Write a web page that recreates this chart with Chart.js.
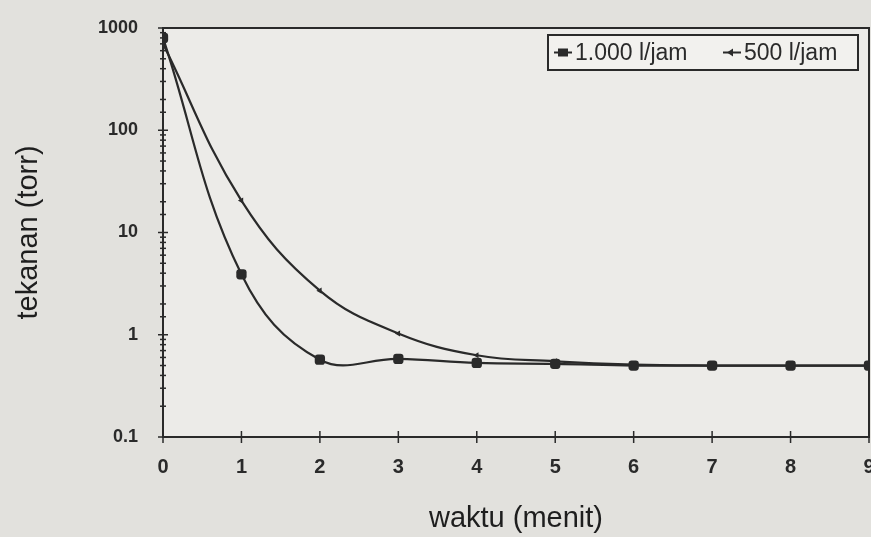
<!DOCTYPE html>
<html>
<head>
<meta charset="utf-8">
<script src="https://cdn.jsdelivr.net/npm/chart.js@4/dist/chart.umd.min.js"></script>
<style>
  html, body { margin: 0; padding: 0; background: #e2e1dd; overflow: hidden; }
  #wrap { position: relative; width: 871px; height: 537px; overflow: hidden; }
</style>
</head>
<body>
<div id="wrap"><canvas id="pressureChart" width="875" height="537"></canvas></div>
<script>
// data
const waktu = [0, 1, 2, 3, 4, 5, 6, 7, 8, 9];
const tekanan1000 = [800, 3.9, 0.57, 0.58, 0.53, 0.52, 0.5, 0.5, 0.5, 0.5];
const tekanan500 = [700, 20.5, 2.7, 1.03, 0.63, 0.55, 0.51, 0.5, 0.5, 0.5];
const seriesLabels = ['1.000 l/jam', '500 l/jam'];
const yTickLabels = [0.1, 1, 10, 100, 1000];
const ink = '#2a2a2a';

function toPoints(ys) {
    return waktu.map((x, i) => ({ x: x, y: ys[i] }));
}

// paper background, frame, crossing tick marks and boxed legend
const framePlugin = {
    id: 'frame',
    beforeDraw(chart) {
        const { ctx, chartArea: a } = chart;
        ctx.save();
        ctx.fillStyle = '#e2e1dd';
        ctx.fillRect(0, 0, chart.width, chart.height);
        ctx.fillStyle = '#ecebe8';
        ctx.fillRect(a.left, a.top, a.right - a.left, a.bottom - a.top);
        ctx.restore();
    },
    afterDatasetsDraw(chart) {
        const { ctx, chartArea: a, scales } = chart;
        ctx.save();
        ctx.strokeStyle = ink;
        ctx.lineWidth = 2;
        ctx.strokeRect(a.left, a.top, a.right - a.left, a.bottom - a.top);

        ctx.lineWidth = 1.5;
        scales.x.ticks.forEach(t => {
            const px = scales.x.getPixelForValue(t.value);
            ctx.beginPath();
            ctx.moveTo(px, a.bottom - 6);
            ctx.lineTo(px, a.bottom + 6);
            ctx.stroke();
        });
        scales.y.ticks.forEach(t => {
            const py = scales.y.getPixelForValue(t.value);
            const major = yTickLabels.includes(t.value);
            const len = major ? 5 : 3;
            ctx.beginPath();
            ctx.moveTo(a.left - len, py);
            ctx.lineTo(a.left + len, py);
            ctx.stroke();
        });

        // legend box
        const bx = 548, by = 35, bw = 310, bh = 35;
        ctx.fillStyle = '#f2f1ee';
        ctx.fillRect(bx, by, bw, bh);
        ctx.lineWidth = 2;
        ctx.strokeRect(bx, by, bw, bh);
        ctx.font = '23px "Liberation Sans Narrow", "Liberation Sans", Arial, sans-serif';
        ctx.textBaseline = 'middle';
        ctx.fillStyle = ink;
        const cy = by + bh / 2;
        const items = [
            { x: 554, ds: 0 },
            { x: 723, ds: 1 }
        ];
        items.forEach(it => {
            ctx.lineWidth = 2;
            ctx.beginPath();
            ctx.moveTo(it.x, cy);
            ctx.lineTo(it.x + 18, cy);
            ctx.stroke();
            if (it.ds === 0) {
                ctx.fillRect(it.x + 4, cy - 4, 10, 8);
            } else {
                ctx.beginPath();
                ctx.moveTo(it.x + 4, cy);
                ctx.lineTo(it.x + 10, cy - 4);
                ctx.lineTo(it.x + 10, cy + 4);
                ctx.closePath();
                ctx.fill();
            }
            ctx.fillText(chart.data.datasets[it.ds].label, it.x + 21, cy + 1);
        });
        ctx.restore();
    }
};

const ctx = document.getElementById('pressureChart').getContext('2d');

new Chart(ctx, {
    type: 'line',
    data: {
        datasets: [
            {
                label: seriesLabels[0],
                data: toPoints(tekanan1000),
                borderColor: ink,
                backgroundColor: ink,
                borderWidth: 2.2,
                tension: 0.4,
                pointStyle: 'rectRounded',
                pointRadius: 6,
                pointBorderWidth: 0
            },
            {
                label: seriesLabels[1],
                data: toPoints(tekanan500),
                borderColor: ink,
                backgroundColor: ink,
                borderWidth: 2.2,
                tension: 0.4,
                pointStyle: 'triangle',
                pointRotation: -90,
                pointRadius: 3.5,
                pointBorderWidth: 0
            }
        ]
    },
    options: {
        responsive: false,
        animation: false,
        layout: {
            padding: { top: 28, right: 0, bottom: 0, left: 0 }
        },
        plugins: {
            legend: { display: false },
            tooltip: { enabled: false }
        },
        scales: {
            x: {
                type: 'linear',
                min: 0,
                max: 9,
                afterFit(scale) {
                    scale.height = 100;
                    scale.paddingLeft = 0;
                    scale.paddingRight = 0;
                },
                grid: { display: true, drawOnChartArea: false, color: 'transparent', tickLength: 8 },
                border: { display: false },
                ticks: {
                    stepSize: 1,
                    padding: 10,
                    color: ink,
                    font: { family: '"Liberation Sans", Arial, sans-serif', size: 20, weight: 'bold' }
                },
                title: {
                    display: true,
                    text: 'waktu (menit)',
                    color: '#1e1e1e',
                    padding: { top: 0, bottom: 1 },
                    font: { family: '"Liberation Sans", Arial, sans-serif', size: 29 }
                }
            },
            y: {
                type: 'logarithmic',
                min: 0.1,
                max: 1000,
                afterFit(scale) {
                    scale.width = 163;
                    scale.paddingTop = 0;
                    scale.paddingBottom = 0;
                },
                grid: { display: true, drawOnChartArea: false, color: 'transparent', tickLength: 8 },
                border: { display: false },
                ticks: {
                    padding: 17,
                    autoSkip: false,
                    color: ink,
                    font: { family: '"Liberation Sans", Arial, sans-serif', size: 18, weight: 'bold' },
                    callback: function(value) {
                        return yTickLabels.includes(value) ? String(value) : '';
                    }
                },
                title: {
                    display: true,
                    text: 'tekanan (torr)',
                    color: '#1e1e1e',
                    padding: { top: 12, bottom: 0 },
                    font: { family: '"Liberation Sans", Arial, sans-serif', size: 29 }
                }
            }
        }
    },
    plugins: [framePlugin]
});
</script>
</body>
</html>
